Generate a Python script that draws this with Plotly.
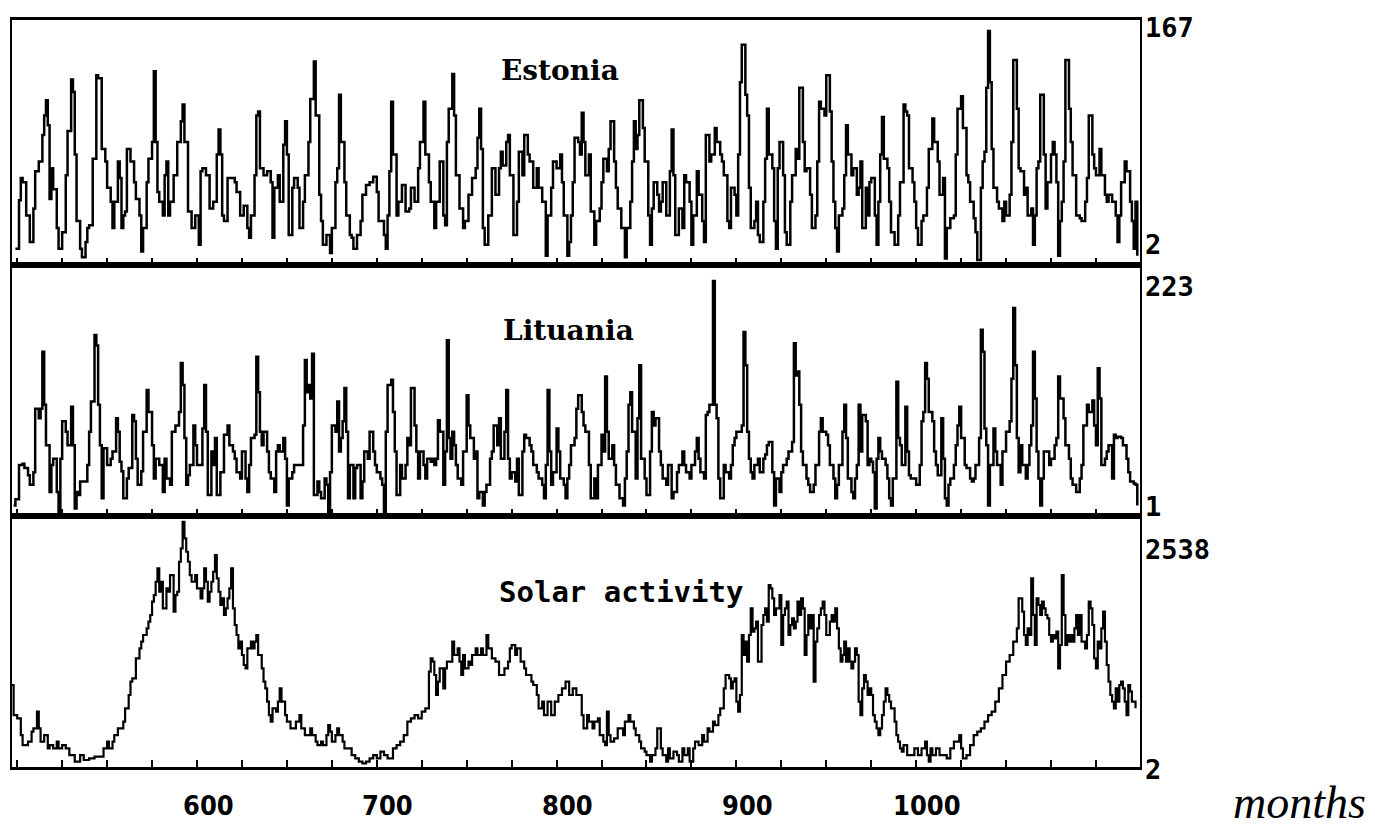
import plotly.graph_objects as go

# (month, value) readings for each series, estimated from the scanned chart
estonia_points = [
    (499, 10), (501, 45), (502, 61), (503, 58), (505, 34), (507, 15), (509, 39), (510, 66), (512, 73), (514, 92),
    (515, 106), (516, 117), (517, 99), (518, 46), (519, 68), (520, 53), (522, 25), (523, 10), (525, 22), (527, 63),
    (528, 95), (530, 132), (531, 123), (532, 78), (533, 30), (535, 10), (536, 4), (538, 15), (539, 25), (540, 27),
    (542, 75), (544, 135), (545, 133), (547, 82), (549, 73), (550, 54), (552, 44), (553, 25), (554, 44), (556, 73),
    (557, 61), (558, 25), (559, 34), (560, 37), (561, 82), (563, 73), (565, 58), (566, 46), (568, 34), (569, 8),
    (570, 25), (572, 58), (573, 75), (575, 87), (576, 138), (577, 87), (578, 51), (579, 44), (581, 34), (582, 63),
    (583, 73), (584, 34), (585, 44), (587, 63), (589, 87), (591, 102), (592, 114), (593, 87), (595, 37), (597, 25),
    (599, 34), (601, 13), (602, 66), (603, 68), (605, 63), (607, 39), (609, 44), (611, 78), (612, 96), (613, 78),
    (614, 34), (615, 30), (617, 61), (619, 61), (621, 58), (622, 51), (624, 34), (626, 41), (628, 25), (629, 18),
    (630, 34), (632, 63), (633, 106), (634, 109), (635, 68), (637, 63), (639, 66), (641, 58), (642, 18), (643, 54),
    (645, 63), (646, 44), (648, 85), (649, 102), (650, 78), (651, 20), (653, 54), (654, 61), (656, 54),
    (657, 25), (659, 44), (660, 63), (662, 87), (663, 118), (665, 145), (666, 106), (668, 49), (669, 30), (670, 13),
    (672, 20), (674, 7), (675, 25), (677, 58), (678, 68), (679, 121), (680, 87), (682, 58), (683, 34), (685, 20),
    (686, 18), (687, 10), (689, 20), (691, 30), (692, 49), (694, 56), (696, 58), (698, 62), (700, 51), (701, 30),
    (704, 20), (705, 10), (706, 34), (707, 66), (708, 116), (709, 78), (711, 34), (712, 44), (714, 56), (716, 37),
    (718, 39), (719, 54), (721, 44), (723, 68), (724, 87), (726, 116), (727, 78), (729, 58), (730, 44), (732, 25),
    (733, 44), (735, 73), (737, 34), (738, 27), (739, 87), (740, 111), (742, 136), (743, 106), (744, 63), (746, 39),
    (748, 25), (749, 30), (751, 49), (753, 61), (755, 68), (756, 90), (757, 111), (758, 82), (759, 25), (760, 13),
    (762, 34), (764, 68), (766, 49), (768, 68), (769, 80), (770, 70), (772, 87), (773, 92), (774, 63), (776, 20),
    (778, 44), (779, 80), (781, 63), (782, 92), (784, 78), (785, 73), (787, 54), (789, 68), (790, 54), (792, 44),
    (794, 5), (795, 34), (797, 54), (798, 73), (800, 68), (802, 78), (803, 58), (804, 34), (806, 5), (807, 15),
    (808, 34), (809, 58), (810, 90), (812, 87), (813, 78),
    (814, 108), (815, 87), (816, 63), (818, 78), (819, 37), (821, 13), (822, 30), (824, 39), (825, 58), (826, 75),
    (828, 66), (829, 82), (830, 102), (832, 73), (833, 54), (834, 39), (836, 25), (838, 4), (839, 25), (841, 44),
    (842, 73), (843, 102), (844, 82), (845, 92), (846, 117), (848, 97), (849, 73), (851, 34), (852, 13), (853, 39),
    (854, 58), (856, 49), (857, 37), (858, 44), (859, 58), (861, 34), (863, 66), (864, 96), (865, 63), (866, 20),
    (868, 39), (870, 25), (871, 63), (872, 58), (874, 44), (875, 13), (876, 34), (878, 66), (879, 49), (881, 30),
    (882, 15), (883, 92), (885, 73), (886, 78), (888, 97), (889, 87), (891, 78), (892, 73), (893, 63), (895, 30),
    (896, 25), (897, 54), (899, 49), (900, 34), (901, 78), (902, 130), (903, 157), (905, 121), (906, 106), (907, 54),
    (908, 25), (910, 30), (911, 44), (912, 20), (913, 15), (915, 44), (916, 75), (917, 111), (918, 78), (920, 68),
    (921, 30), (922, 10), (923, 68), (924, 87), (926, 63), (927, 22), (928, 13), (930, 44), (931, 63), (933, 82),
    (934, 75), (935, 126), (937, 87), (938, 66), (939, 68), (941, 49), (942, 25), (944, 34), (945, 73), (946, 116),
    (947, 111), (949, 106), (950, 135), (952, 109), (953, 73), (954, 44), (955, 25), (956, 8), (957, 34), (959, 39),
    (960, 63), (961, 99), (962, 78), (964, 63), (965, 68), (967, 49), (968, 54),
    (969, 73), (970, 25), (972, 54), (973, 34), (974, 58), (975, 61), (977, 34), (978, 13), (979, 44), (980, 78),
    (981, 105), (982, 75), (984, 68), (985, 44), (986, 22), (988, 13), (990, 34), (991, 58), (993, 114), (994, 109),
    (995, 106), (996, 68), (998, 58), (999, 44), (1000, 25), (1001, 13), (1003, 30), (1004, 34), (1006, 54), (1007, 82),
    (1009, 104), (1010, 87), (1012, 73), (1013, 49), (1015, 61), (1016, 3), (1017, 25), (1019, 32), (1021, 34), (1022, 78),
    (1023, 111), (1025, 120), (1026, 97), (1028, 63), (1029, 58), (1030, 44), (1032, 32), (1033, 22), (1034, 2), (1036, 54),
    (1037, 73), (1038, 80), (1039, 126), (1040, 167), (1041, 130), (1042, 82), (1043, 54), (1045, 44), (1046, 39), (1048, 30),
    (1049, 44), (1050, 34), (1052, 49), (1053, 87), (1054, 146), (1056, 111), (1057, 68), (1058, 66), (1060, 49), (1061, 54),
    (1062, 34), (1064, 39), (1065, 13), (1066, 34), (1067, 68), (1068, 73), (1069, 121), (1071, 78), (1072, 39), (1073, 58),
    (1075, 78), (1076, 87), (1077, 78), (1078, 58), (1079, 5), (1080, 30), (1081, 44), (1082, 73), (1083, 146), (1085, 111),
    (1086, 87), (1087, 63), (1089, 34), (1091, 32), (1092, 30), (1094, 44), (1095, 61), (1096, 106), (1098, 78), (1099, 68),
    (1100, 63), (1102, 82), (1103, 63), (1105, 49), (1106, 44), (1107, 49), (1109, 44), (1111, 34), (1112, 15), (1113, 34),
    (1114, 58), (1116, 73), (1117, 66), (1119, 44), (1120, 30), (1121, 10), (1122, 44), (1123, 5),
]

lituania_points = [
    (498, 7), (499, 13), (501, 46), (503, 47), (504, 43), (506, 36), (507, 27), (509, 39), (510, 100), (511, 100),
    (512, 91), (513, 100), (514, 155), (515, 104), (516, 65), (518, 20), (519, 46), (520, 52), (522, 20), (523, 1),
    (524, 52), (525, 88), (527, 78), (528, 65), (530, 102), (531, 65), (532, 4), (533, 20), (534, 17), (535, 30),
    (537, 30), (539, 46), (540, 78), (541, 107), (543, 171), (544, 161), (545, 104), (546, 65), (547, 14), (548, 62),
    (550, 46), (552, 52), (553, 59), (555, 91), (556, 78), (557, 49), (558, 40), (559, 14), (561, 33), (562, 43),
    (564, 94), (565, 88), (566, 52), (567, 27), (569, 40), (570, 78), (572, 118), (573, 97), (575, 65), (576, 33),
    (577, 52), (579, 46), (581, 20), (582, 52), (583, 33), (585, 27), (586, 78), (588, 84), (590, 97), (591, 144),
    (592, 123), (593, 72), (594, 27), (595, 36), (596, 46), (598, 84), (599, 65), (600, 46), (602, 46), (603, 81),
    (604, 123), (605, 78), (606, 17), (608, 59), (609, 46), (610, 72), (611, 17), (613, 39), (614, 39), (615, 75),
    (617, 84), (618, 65), (620, 59), (621, 52), (622, 39), (624, 33), (625, 59), (627, 33), (628, 20), (629, 46),
    (630, 72), (632, 75), (633, 150), (634, 116), (635, 78), (636, 65), (637, 78), (639, 59), (640, 39), (641, 33),
    (643, 20), (644, 59), (645, 65), (646, 59), (648, 72), (649, 52), (650, 7), (651, 33), (653, 39), (654, 46),
    (656, 46),
    (657, 46), (659, 84), (660, 147), (661, 116), (662, 123), (663, 110), (664, 153), (665, 17), (667, 30), (668, 20),
    (669, 14), (671, 33), (672, 27), (673, 1), (674, 39), (675, 84), (677, 78), (678, 107), (679, 59), (680, 72),
    (681, 88), (682, 120), (683, 78), (684, 14), (685, 46), (687, 14), (688, 43), (689, 46), (691, 14), (692, 30),
    (693, 59), (695, 52), (696, 78), (698, 59), (699, 46), (700, 39), (702, 33), (703, 27), (704, 1), (705, 78),
    (706, 123), (708, 128), (709, 97), (710, 59), (711, 17), (713, 46), (714, 33), (716, 46), (717, 72), (718, 65),
    (719, 120), (721, 84), (722, 59), (723, 33), (724, 59), (726, 46), (727, 33), (728, 52), (730, 49), (731, 52),
    (732, 46), (733, 52), (734, 89), (735, 78), (737, 27), (738, 59), (739, 166), (740, 72), (741, 52), (742, 78),
    (743, 65), (744, 46), (745, 33), (747, 27), (748, 59), (750, 113), (751, 84), (752, 72), (754, 52), (755, 59),
    (756, 14), (757, 20), (759, 7), (760, 20), (761, 27), (763, 52), (764, 59), (765, 84), (767, 65), (768, 91),
    (769, 52), (771, 78), (772, 118), (773, 52), (774, 33), (775, 39), (777, 30), (778, 52), (779, 17), (781, 59),
    (782, 75), (783, 72), (785, 65), (786, 59), (787, 46), (789, 39), (790, 33), (792, 27), (793, 14), (794, 46),
    (795, 118), (796, 59), (797, 27), (798, 39), (800, 81), (801, 59), (802, 33), (804, 27), (805, 14), (806, 33),
    (807, 46), (808, 65), (810, 72), (811, 100), (812, 113),
    (814, 97), (815, 84), (816, 78), (818, 46), (819, 14), (821, 33), (822, 14), (823, 46), (825, 75), (826, 59),
    (827, 131), (828, 78), (829, 52), (831, 65), (832, 46), (833, 27), (835, 14), (837, 7), (838, 33), (839, 59),
    (840, 104), (841, 116), (842, 78), (844, 33), (845, 91), (846, 142), (847, 52), (849, 33), (850, 17), (852, 59),
    (853, 97), (854, 84), (855, 91), (857, 59), (858, 46), (859, 33), (861, 27), (862, 46), (864, 14), (865, 20),
    (867, 39), (868, 46), (870, 59), (871, 46), (872, 39), (874, 33), (875, 46), (877, 59), (878, 72), (879, 52),
    (880, 39), (882, 33), (883, 94), (884, 97), (885, 104), (886, 104), (887, 223), (888, 104), (889, 91), (890, 33),
    (891, 14), (893, 46), (894, 39), (896, 33), (897, 46), (898, 65), (899, 72), (900, 78), (902, 78), (903, 84),
    (904, 174), (905, 142), (906, 78), (907, 52), (908, 39), (909, 33), (910, 46), (912, 52), (913, 39), (915, 52),
    (916, 56), (917, 65), (918, 68), (920, 39), (921, 7), (922, 33), (924, 20), (925, 39), (926, 46), (928, 52),
    (929, 59), (931, 68), (932, 163), (933, 132), (934, 136), (935, 104), (936, 59), (937, 46), (939, 33), (940, 27),
    (941, 20), (943, 27), (944, 46), (946, 78), (947, 91), (948, 78), (950, 75), (951, 65), (952, 46), (954, 33),
    (955, 14), (956, 27), (957, 46), (959, 78), (960, 104), (961, 72), (962, 33), (964, 20), (965, 14), (966, 33),
    (967, 46), (968, 104),
    (969, 59), (970, 94), (972, 88), (973, 46), (974, 52), (975, 49), (976, 39), (977, 4), (978, 52), (979, 72),
    (980, 59), (981, 52), (983, 46), (984, 33), (985, 14), (986, 7), (987, 33), (989, 126), (990, 72), (991, 65),
    (992, 46), (994, 102), (995, 59), (996, 36), (997, 33), (999, 33), (1000, 27), (1002, 46), (1003, 88), (1004, 97),
    (1005, 144), (1006, 129), (1007, 97), (1009, 88), (1010, 59), (1011, 46), (1012, 36), (1014, 91), (1015, 52), (1016, 14),
    (1017, 7), (1018, 27), (1019, 33), (1021, 46), (1022, 65), (1023, 84), (1024, 102), (1025, 72), (1027, 46), (1028, 43),
    (1030, 33), (1031, 30), (1032, 33), (1033, 46), (1035, 72), (1036, 176), (1037, 155), (1038, 81), (1039, 65), (1040, 7),
    (1041, 46), (1043, 81), (1044, 59), (1045, 46), (1047, 27), (1048, 59), (1049, 59), (1050, 78), (1052, 88), (1053, 129),
    (1054, 197), (1055, 142), (1056, 72), (1057, 39), (1058, 65), (1059, 46), (1061, 33), (1062, 46), (1063, 65), (1064, 84),
    (1065, 155), (1066, 110), (1067, 59), (1068, 33), (1069, 7), (1070, 33), (1071, 59), (1073, 59), (1074, 46), (1075, 52),
    (1077, 65), (1078, 72), (1079, 131), (1080, 110), (1082, 91), (1083, 65), (1085, 52), (1086, 33), (1087, 27), (1089, 20),
    (1091, 33), (1092, 46), (1093, 84), (1095, 104), (1096, 97), (1098, 108), (1099, 84), (1100, 65), (1101, 139), (1102, 110),
    (1103, 46), (1105, 52), (1106, 59), (1107, 65), (1109, 33), (1110, 75), (1111, 72), (1112, 73), (1114, 72), (1115, 65),
    (1117, 52), (1118, 39), (1119, 30), (1121, 28), (1122, 27), (1123, 7),
]

solar_points = [
    (497, 824), (498, 509), (500, 474), (502, 299), (503, 194), (505, 194), (506, 229), (508, 334), (509, 369), (511, 544),
    (512, 369), (513, 229), (515, 299), (517, 159), (518, 194), (520, 159), (522, 229), (523, 159), (525, 194), (527, 159),
    (529, 89), (532, 20), (535, 89), (537, 37), (540, 55), (543, 72), (546, 72), (548, 159), (550, 229), (551, 159),
    (553, 229), (554, 299), (556, 369), (557, 369), (559, 439), (560, 579), (562, 719), (563, 859), (564, 894), (566, 1104),
    (568, 1209), (569, 1279), (570, 1349), (572, 1419), (573, 1489), (574, 1559), (575, 1699), (576, 1768), (577, 1908), (578, 2048),
    (579, 1803), (580, 1908), (581, 1629), (583, 1838), (584, 1803), (585, 1978), (587, 1594), (588, 1768), (589, 1803), (590, 2118),
    (591, 2258), (592, 2538), (593, 2363), (594, 2223), (595, 2118), (596, 1978), (597, 1908), (598, 1908), (599, 1978), (600, 1838),
    (602, 1734), (603, 1838), (604, 2048), (605, 1908), (606, 1699), (607, 1803), (608, 1908), (609, 2013), (610, 2188), (611, 1943),
    (612, 1803), (613, 1664), (614, 1734), (615, 1559), (616, 1629), (617, 1734), (618, 1838), (619, 2048), (620, 1629), (621, 1454),
    (622, 1349), (623, 1209), (624, 1279), (625, 1139), (626, 1034), (627, 999), (628, 1209), (630, 1279), (631, 1209), (632, 1279),
    (633, 1349), (634, 1139), (636, 999), (637, 859), (638, 789), (639, 649), (640, 509), (641, 439), (642, 579), (644, 544),
    (645, 649), (646, 789), (647, 649), (649, 509), (650, 439), (652, 369), (653, 369), (655, 439), (657, 509), (658, 369),
    (660, 299), (661, 299), (663, 369), (664, 299), (666, 229), (667, 194), (669, 229), (670, 194), (672, 299), (673, 404),
    (674, 334), (675, 229), (677, 299), (678, 369), (679, 299), (681, 229), (682, 159), (684, 159), (686, 89), (688, 55),
    (690, 20), (692, 2), (694, 20), (696, 55), (698, 89), (700, 55), (702, 124), (704, 89), (706, 55), (709, 159),
    (711, 194), (713, 229), (715, 299), (717, 439), (719, 474), (721, 509), (723, 474), (725, 544), (727, 579), (729, 964),
    (730, 1104), (731, 1069), (732, 929), (733, 719), (734, 859), (735, 999), (737, 789), (738, 999), (739, 1069), (741, 1069),
    (742, 1279), (743, 1139), (745, 1209), (746, 1069), (747, 929), (748, 1139), (749, 999), (751, 1069), (752, 1034), (753, 1139),
    (755, 1209), (756, 1139), (758, 1209), (759, 1139), (761, 1349), (762, 1209), (764, 1104), (766, 1069), (768, 929), (770, 929),
    (771, 999), (773, 1069), (774, 1209), (775, 1244), (777, 1139), (778, 1209), (780, 1069), (782, 999), (783, 929), (784, 929),
    (786, 859), (787, 824), (789, 719), (790, 579), (792, 649), (793, 509), (795, 649), (797, 509), (799, 649), (801, 719),
    (803, 789), (805, 859), (807, 719), (809, 789), (811, 719),
    (814, 509), (815, 369), (817, 509), (818, 439), (820, 369), (821, 439), (823, 474), (824, 299), (826, 229), (827, 194),
    (828, 544), (829, 299), (830, 229), (832, 264), (834, 369), (835, 369), (837, 299), (838, 439), (840, 509), (841, 439),
    (843, 369), (844, 299), (846, 229), (847, 159), (849, 124), (850, 89), (852, 20), (853, 89), (855, 159), (856, 369),
    (858, 159), (859, 89), (861, 20), (862, 159), (863, 55), (865, 124), (867, 89), (868, 20), (870, 159), (871, 89),
    (873, 159), (874, 20), (876, 159), (877, 229), (879, 194), (881, 299), (882, 229), (884, 369), (885, 334), (887, 439),
    (888, 404), (890, 509), (891, 579), (893, 789), (894, 929), (896, 894), (897, 789), (898, 859), (899, 894), (900, 649),
    (901, 544), (902, 719), (903, 1349), (904, 1139), (905, 1279), (906, 1069), (907, 1349), (908, 1629), (909, 1384), (910, 1419),
    (911, 1489), (912, 1069), (914, 1454), (915, 1559), (916, 1629), (917, 1489), (918, 1874), (919, 1838), (920, 1734), (921, 1559),
    (922, 1629), (924, 1768), (925, 1244), (926, 1559), (927, 1629), (928, 1699), (929, 1349), (930, 1454), (931, 1524), (932, 1419),
    (933, 1489), (934, 1699), (935, 1559), (936, 1734), (937, 1629), (938, 1139), (939, 1349), (940, 1559), (941, 1419), (942, 1559),
    (943, 859), (944, 1279), (945, 1419), (946, 1559), (947, 1629), (948, 1699), (949, 1559), (950, 1349), (952, 1489), (953, 1559),
    (954, 1489), (955, 1629), (956, 1419), (957, 1209), (958, 1069), (959, 1139), (960, 1279), (961, 1069), (962, 1209), (963, 1069),
    (964, 999), (965, 1069), (966, 1209), (967, 1139), (968, 649), (969, 509), (970, 789), (971, 929), (972, 859), (973, 719),
    (974, 789), (975, 719), (976, 509), (977, 439), (978, 369), (979, 299), (980, 369), (981, 509), (982, 649), (983, 789),
    (984, 719), (985, 649), (986, 579), (988, 439), (989, 299), (990, 229), (991, 159), (992, 124), (993, 194), (995, 89),
    (997, 89), (999, 159), (1001, 89), (1003, 159), (1005, 229), (1006, 89), (1007, 20), (1008, 159), (1009, 89), (1011, 159),
    (1013, 89), (1015, 89), (1017, 55), (1019, 159), (1021, 229), (1024, 299), (1025, 159), (1026, 55), (1028, 89), (1030, 194),
    (1032, 299), (1034, 334), (1036, 369), (1038, 439), (1040, 509), (1042, 544), (1044, 649), (1046, 789), (1048, 929), (1050, 1069),
    (1052, 1139), (1054, 1279), (1056, 1419), (1057, 1734), (1059, 1594), (1060, 1349), (1061, 1244), (1062, 1419), (1063, 1349), (1064, 1943),
    (1065, 1559), (1066, 1244), (1067, 1734), (1068, 1664), (1069, 1559), (1070, 1699), (1071, 1629), (1072, 1559), (1073, 1524), (1074, 1349),
    (1075, 1279), (1076, 1349), (1077, 1314), (1078, 1384), (1079, 999), (1080, 1244), (1081, 1978), (1082, 1559), (1083, 1244), (1084, 1349),
    (1085, 1279), (1086, 1349), (1087, 1279), (1088, 1419), (1089, 1559), (1090, 1349), (1091, 1559), (1092, 1279), (1094, 1209), (1095, 1349),
    (1096, 1699), (1097, 1629), (1098, 1454), (1099, 1104), (1100, 999), (1101, 1279), (1102, 1209), (1103, 1419), (1104, 1594), (1105, 1279),
    (1106, 1034), (1107, 859), (1108, 719), (1109, 649), (1110, 579), (1111, 789), (1112, 649), (1113, 824), (1114, 859), (1115, 789),
    (1116, 649), (1117, 509), (1118, 824), (1119, 754), (1120, 649), (1122, 579),
]

panel_names = ["Estonia", "Lituania", "Solar activity"]
panel_max_labels = ["167", "223", "2538"]
panel_min_labels = ["2", "1", "2"]
x_tick_values = [600, 700, 800, 900, 1000]
x_tick_labels = ["600", "700", "800", "900", "1000"]
x_axis_title = "months"

estonia_months = [m for m, _ in estonia_points]
estonia_values = [v for _, v in estonia_points]
lituania_months = [m for m, _ in lituania_points]
lituania_values = [v for _, v in lituania_points]
solar_months = [m for m, _ in solar_points]
solar_values = [v for _, v in solar_points]

X_RANGE = [497.1, 1124.5]
Y_RANGES = [[-1.65, 174.9], [-3.2, 238.4], [-36.5, 2598]]
DOMAINS = [[0.672, 1.0], [0.336, 0.672], [0.0, 0.336]]
LINE_WIDTHS = [2.5, 2.5, 2.2]

fig = go.Figure()
series = [(estonia_months, estonia_values), (lituania_months, lituania_values), (solar_months, solar_values)]
for i, (mx, vy) in enumerate(series):
    suffix = "" if i == 0 else str(i + 1)
    fig.add_trace(go.Scatter(
        x=mx, y=vy, mode="lines", line=dict(color="black", width=LINE_WIDTHS[i], shape="hv"),
        xaxis="x" + suffix, yaxis="y" + suffix, showlegend=False, hoverinfo="skip",
    ))

layout = dict(
    width=1375, height=828,
    margin=dict(l=12, r=235, t=20, b=61, autoexpand=False),
    paper_bgcolor="white", plot_bgcolor="white",
    showlegend=False,
)
for i in range(3):
    suffix = "" if i == 0 else str(i + 1)
    layout["xaxis" + suffix] = dict(
        domain=[0, 1], anchor="y" + suffix, range=X_RANGE,
        showgrid=False, zeroline=False, showline=True, linecolor="black", linewidth=3, mirror=True,
        ticks="inside", tick0=0, dtick=25, ticklen=7, tickwidth=2, tickcolor="black",
        showticklabels=False, fixedrange=True,
    )
    layout["yaxis" + suffix] = dict(
        domain=DOMAINS[i], anchor="x" + suffix, range=Y_RANGES[i],
        showgrid=False, zeroline=False, showline=True, linecolor="black", linewidth=2, mirror=True,
        ticks="", showticklabels=False, fixedrange=True,
    )
fig.update_layout(**layout)

annotations = []
title_fonts = [
    dict(family="DejaVu Serif", size=28, color="black", weight="bold"),
    dict(family="DejaVu Serif", size=28, color="black", weight="bold"),
    dict(family="DejaVu Sans Mono", size=29, color="black", weight="bold"),
]
title_pos = [(0.486, 0.933), (0.493, 0.585), (0.540, 0.234)]
for name, (px_, py_), f in zip(panel_names, title_pos, title_fonts):
    annotations.append(dict(text=name, xref="paper", yref="paper", x=px_, y=py_,
                            xanchor="center", yanchor="middle", showarrow=False, font=f))

label_font = dict(family="DejaVu Sans Mono", size=27, color="black", weight="bold")
max_y = [0.9906, 0.6439, 0.2918]
min_y = [0.6988, 0.3481, -0.004]
for lab, yy in zip(panel_max_labels, max_y):
    annotations.append(dict(text=lab, xref="paper", yref="paper", x=1.0, y=yy, xanchor="left",
                            yanchor="middle", xshift=3, showarrow=False, font=label_font))
for lab, yy in zip(panel_min_labels, min_y):
    annotations.append(dict(text=lab, xref="paper", yref="paper", x=1.0, y=yy, xanchor="left",
                            yanchor="middle", xshift=3, showarrow=False, font=label_font))

tick_font = dict(family="Liberation Sans Narrow, DejaVu Sans Condensed, DejaVu Sans Mono", size=27,
                 color="black", weight="bold")
for tv, tl in zip(x_tick_values, x_tick_labels):
    annotations.append(dict(text=tl, xref="x3", yref="paper", x=tv, y=-0.052, xanchor="center",
                            yanchor="middle", xshift=11, showarrow=False, font=tick_font))

annotations.append(dict(text="<i>" + x_axis_title + "</i>", xref="paper", yref="paper", x=1.141, y=-0.048,
                        xanchor="center", yanchor="middle", showarrow=False,
                        font=dict(family="Liberation Serif", size=46, color="black")))
fig.update_layout(annotations=annotations)

fig.write_html("out.html")
